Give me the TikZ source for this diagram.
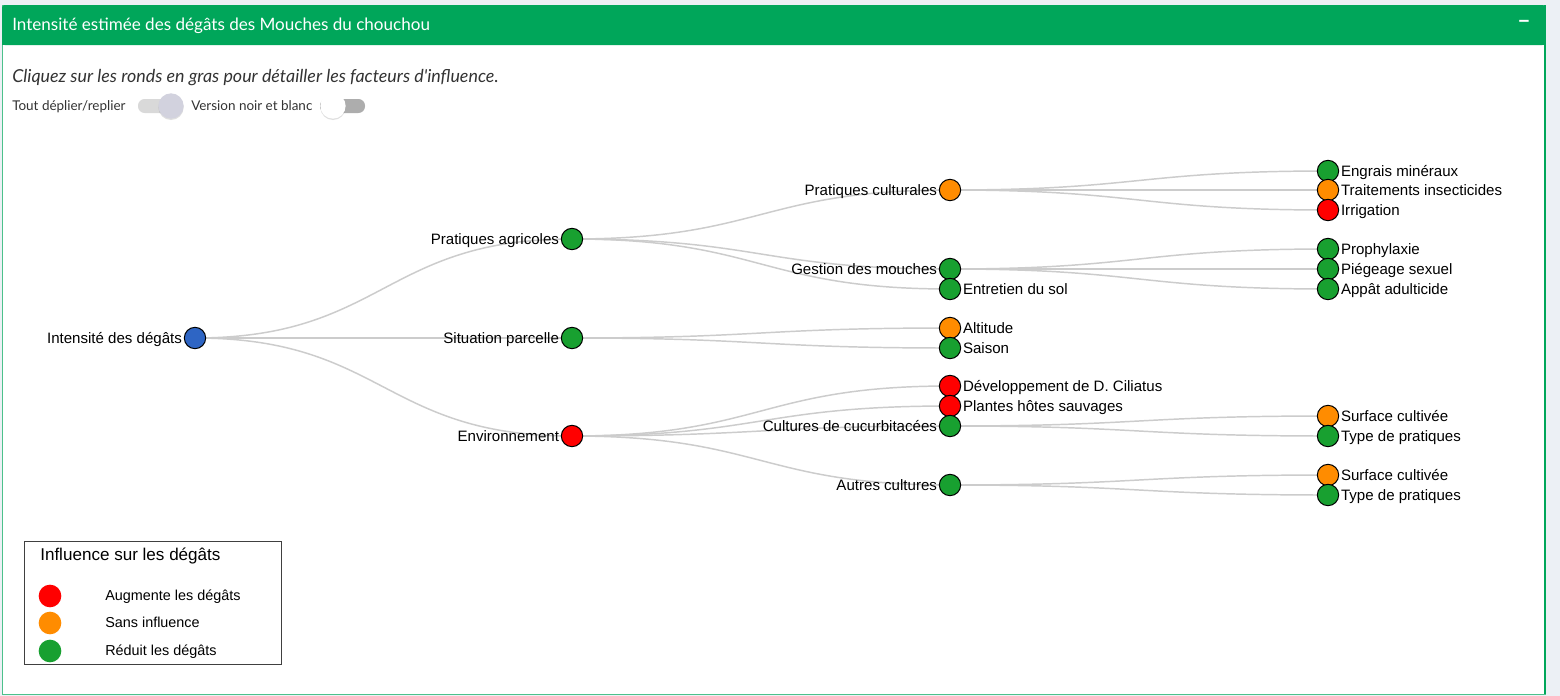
\documentclass[tikz,border=0pt]{standalone}
\usepackage{fontspec}
\setmainfont{Liberation Sans}
\newfontfamily\uifont{Lato}
\usetikzlibrary{calc,backgrounds,shadows}
\pgfdeclarelayer{edges}
\pgfsetlayers{background,edges,main}
\definecolor{boxgreen}{HTML}{00A65A}
\definecolor{pagebg}{HTML}{ECF0F5}
\definecolor{cred}{HTML}{FF0000}
\definecolor{corange}{HTML}{FF8C00}
\definecolor{cgreen}{HTML}{18A030}
\definecolor{cblue}{HTML}{2E65C4}
\definecolor{edgegrey}{HTML}{CCCCCC}
\definecolor{txtgrey}{HTML}{333333}
\definecolor{knobgrey}{HTML}{D2D2DE}
\newcommand\lnk[2]{\draw[edge] let \p1=(#1.center), \p2=(#2.center) in (\p1) .. controls ({(\x1+\x2)/2},\y1) and ({(\x1+\x2)/2},\y2) .. (\p2);}
\tikzset{
  dot/.style={circle, draw=black, line width=0.75pt, minimum size=16pt, inner sep=0pt},
  lab/.style={font=\fontsize{11.3}{13}\selectfont, inner sep=1.2pt, text=black, yshift=-3.9pt},
  llab/.style={lab, anchor=base east},
  rlab/.style={lab, anchor=base west},
  edge/.style={draw=edgegrey, line width=1.1pt},
  ui/.style={font=\uifont\fontsize{10.1}{12}\selectfont, text=txtgrey, anchor=base west, inner sep=0pt, yshift=-3.5pt},
  legtxt/.style={font=\fontsize{10.8}{12}\selectfont, text=black, anchor=base west, inner sep=0pt, yshift=-3.7pt},
  legdot/.style={circle, minimum size=17pt, inner sep=0pt},
}
\begin{document}
\begin{tikzpicture}[x=0.75pt, y=-0.75pt]
\begin{pgfonlayer}{background}
\fill[pagebg] (0,0) rectangle (1560,696);
\fill[white, draw=boxgreen!70, line width=0.75pt] (2,5) rectangle (1545,694);
\fill[boxgreen, rounded corners=2pt] (2,5) rectangle (1545,45);
\fill[boxgreen] (2,30) rectangle (1545,45);
\draw[boxgreen, line width=1.5pt] (1545,5) -- (1545,694);
\end{pgfonlayer}
% header
\node[anchor=base west, inner sep=0pt, text=white, font=\uifont\fontsize{12.8}{15}\selectfont, yshift=-4.3pt] (title) at (12,25) {Intensité estimée des dégâts des Mouches du chouchou};
\node[inner sep=0pt, text=white, font=\uifont\bfseries\fontsize{16}{18}\selectfont] (minus) at (1524,24) {−};
% instructions
\node[anchor=base west, inner sep=0pt, text=txtgrey, font=\uifont\itshape\fontsize{13.4}{16}\selectfont, yshift=-4.5pt] (instr) at (12,76) {Cliquez sur les ronds en gras pour détailler les facteurs d'influence.};
\node[ui] (t1) at (12,106) {Tout déplier/replier};
\fill[black!15, rounded corners=5pt] (138,99) rectangle (183,113);
\node[circle, fill=knobgrey, minimum size=19pt, inner sep=0pt, drop shadow={opacity=0.25, shadow xshift=0pt, shadow yshift=-1pt}] (k1) at (171,106) {};
\node[ui] (t2) at (191,106) {Version noir et blanc};
\fill[black!32, rounded corners=5pt] (320,99) rectangle (365,113);
\node[circle, fill=white, minimum size=19pt, inner sep=0pt, drop shadow={opacity=0.25, shadow xshift=0pt, shadow yshift=-1pt}] (k2) at (333,106) {};
% tree nodes
\node[dot, fill=cblue] (root) at (195,338) {};
\node[llab] (root-l) at (root.west) {Intensité des dégâts};
\node[dot, fill=cgreen] (pa) at (572,239) {};
\node[llab] (pa-l) at (pa.west) {Pratiques agricoles};
\node[dot, fill=cgreen] (sp) at (572,338) {};
\node[llab] (sp-l) at (sp.west) {Situation parcelle};
\node[dot, fill=cred] (env) at (572,436) {};
\node[llab] (env-l) at (env.west) {Environnement};
\node[dot, fill=corange] (pc) at (950,190) {};
\node[llab] (pc-l) at (pc.west) {Pratiques culturales};
\node[dot, fill=cgreen] (gm) at (950,269) {};
\node[llab] (gm-l) at (gm.west) {Gestion des mouches};
\node[dot, fill=cgreen] (es) at (950,289) {};
\node[rlab] (es-l) at (es.east) {Entretien du sol};
\node[dot, fill=corange] (alt) at (950,328) {};
\node[rlab] (alt-l) at (alt.east) {Altitude};
\node[dot, fill=cgreen] (sai) at (950,348) {};
\node[rlab] (sai-l) at (sai.east) {Saison};
\node[dot, fill=cred] (dev) at (950,386) {};
\node[rlab] (dev-l) at (dev.east) {Développement de D. Ciliatus};
\node[dot, fill=cred] (phs) at (950,406) {};
\node[rlab] (phs-l) at (phs.east) {Plantes hôtes sauvages};
\node[dot, fill=cgreen] (cc) at (950,426) {};
\node[llab] (cc-l) at (cc.west) {Cultures de cucurbitacées};
\node[dot, fill=cgreen] (ac) at (950,485) {};
\node[llab] (ac-l) at (ac.west) {Autres cultures};
\node[dot, fill=cgreen] (em) at (1328,171) {};
\node[rlab] (em-l) at (em.east) {Engrais minéraux};
\node[dot, fill=corange] (ti) at (1328,190) {};
\node[rlab] (ti-l) at (ti.east) {Traitements insecticides};
\node[dot, fill=cred] (irr) at (1328,210) {};
\node[rlab] (irr-l) at (irr.east) {Irrigation};
\node[dot, fill=cgreen] (pro) at (1328,249) {};
\node[rlab] (pro-l) at (pro.east) {Prophylaxie};
\node[dot, fill=cgreen] (ps) at (1328,269) {};
\node[rlab] (ps-l) at (ps.east) {Piégeage sexuel};
\node[dot, fill=cgreen] (aa) at (1328,289) {};
\node[rlab] (aa-l) at (aa.east) {Appât adulticide};
\node[dot, fill=corange] (sc1) at (1328,416) {};
\node[rlab] (sc1-l) at (sc1.east) {Surface cultivée};
\node[dot, fill=cgreen] (tp1) at (1328,436) {};
\node[rlab] (tp1-l) at (tp1.east) {Type de pratiques};
\node[dot, fill=corange] (sc2) at (1328,475) {};
\node[rlab] (sc2-l) at (sc2.east) {Surface cultivée};
\node[dot, fill=cgreen] (tp2) at (1328,495) {};
\node[rlab] (tp2-l) at (tp2.east) {Type de pratiques};
% edges
\begin{pgfonlayer}{edges}
\lnk{root}{pa}\lnk{root}{sp}\lnk{root}{env}
\lnk{pa}{pc}\lnk{pa}{gm}\lnk{pa}{es}
\lnk{sp}{alt}\lnk{sp}{sai}
\lnk{env}{dev}\lnk{env}{phs}\lnk{env}{cc}\lnk{env}{ac}
\lnk{pc}{em}\lnk{pc}{ti}\lnk{pc}{irr}
\lnk{gm}{pro}\lnk{gm}{ps}\lnk{gm}{aa}
\lnk{cc}{sc1}\lnk{cc}{tp1}
\lnk{ac}{sc2}\lnk{ac}{tp2}
\end{pgfonlayer}
% legend
\node[draw=black!75, line width=0.9pt, minimum width=257*0.75pt, minimum height=123*0.75pt, anchor=north west, inner sep=0pt] (legend) at (24,541) {};
\node[anchor=base west, inner sep=0pt, font=\fontsize{12.8}{15}\selectfont, yshift=-4.4pt] (leg-t) at (40,555) {Influence sur les dégâts};
\node[legdot, fill=cred] (ld1) at (50,596) {};
\node[legtxt] (lt1) at (105,596) {Augmente les dégâts};
\node[legdot, fill=corange] (ld2) at (50,623) {};
\node[legtxt] (lt2) at (105,623) {Sans influence};
\node[legdot, fill=cgreen] (ld3) at (50,651) {};
\node[legtxt] (lt3) at (105,651) {Réduit les dégâts};
\end{tikzpicture}
\end{document}
